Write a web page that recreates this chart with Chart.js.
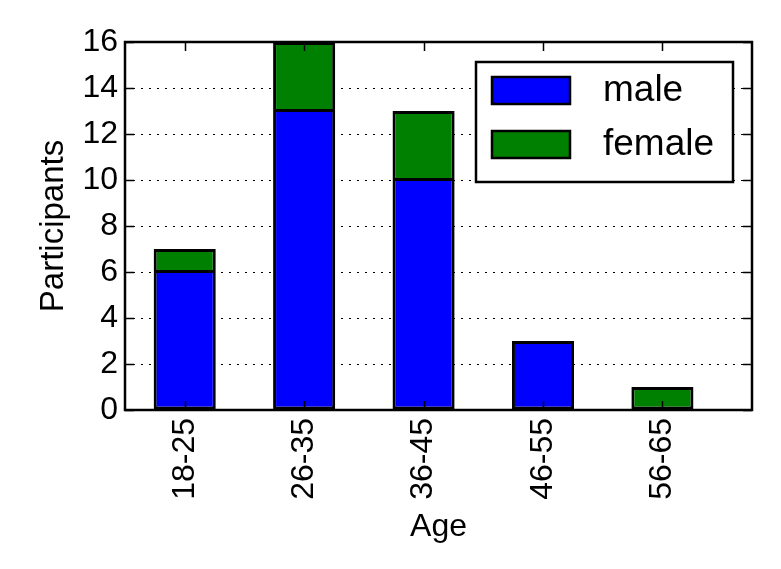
<!DOCTYPE html>
<html>
<head>
<meta charset="utf-8">
<script src="https://cdn.jsdelivr.net/npm/chart.js@4"></script>
<style>
  html, body { margin: 0; padding: 0; background: #fff; }
  #wrap { width: 781px; height: 569px; }
</style>
</head>
<body>
<div id="wrap"><canvas id="chart" width="781" height="569"></canvas></div>
<script>
const ageGroups = ['18-25', '26-35', '36-45', '46-55', '56-65'];
const male = [6, 13, 10, 3, 0];
const female = [1, 3, 3, 0, 1];
const yTicks = [0, 2, 4, 6, 8, 10, 12, 14, 16];

const FONT = '"Liberation Sans", Arial, sans-serif';

function toPoints(values){
  return values.map((v, i) => ({ x: i, y: v }));
}

// frame, inward ticks and legend box, matplotlib-style
const framePlugin = {
  id: 'frame',
  afterDraw(chart){
    const { ctx, chartArea: a, scales } = chart;
    ctx.save();
    ctx.strokeStyle = '#000';
    ctx.lineWidth = 1.5;
    const tl = 9;
    ctx.beginPath();
    ageGroups.forEach((_, i) => {
      const px = Math.round(scales.x.getPixelForValue(i)) + 0.5;
      ctx.moveTo(px, a.bottom); ctx.lineTo(px, a.bottom - tl);
      ctx.moveTo(px, a.top); ctx.lineTo(px, a.top + tl);
    });
    yTicks.forEach(v => {
      const py = Math.round(scales.y.getPixelForValue(v)) + 0.5;
      ctx.moveTo(a.left, py); ctx.lineTo(a.left + tl, py);
      ctx.moveTo(a.right, py); ctx.lineTo(a.right - tl, py);
    });
    ctx.stroke();

    ctx.lineWidth = 2.5;
    ctx.strokeRect(a.left, a.top, a.right - a.left, a.bottom - a.top);

    // legend
    const bx = a.right - 276, by = a.top + 20, bw = 257, bh = 120;
    ctx.fillStyle = '#fff';
    ctx.fillRect(bx, by, bw, bh);
    ctx.strokeRect(bx, by, bw, bh);
    ctx.font = '37px ' + FONT;
    ctx.textBaseline = 'middle';
    chart.data.datasets.forEach((ds, i) => {
      const py = by + 15 + i * 54;
      ctx.fillStyle = ds.backgroundColor;
      ctx.fillRect(bx + 16, py, 78, 27);
      ctx.strokeRect(bx + 16, py, 78, 27);
      ctx.fillStyle = '#000';
      ctx.fillText(ds.label, bx + 127, py + 14);
    });
    ctx.restore();
  }
};

new Chart(document.getElementById('chart'), {
  type: 'bar',
  data: {
    datasets: [
      {
        label: 'male',
        data: toPoints(male),
        backgroundColor: '#0000ff',
        borderColor: '#000',
        borderWidth: c => ({ left: 3, right: 3, bottom: 3, top: female[c.dataIndex] > 0 ? 1 : 3 }),
        borderSkipped: false,
      },
      {
        label: 'female',
        data: toPoints(female),
        backgroundColor: '#008000',
        borderColor: '#000',
        borderWidth: c => ({ left: 3, right: 3, top: 3, bottom: male[c.dataIndex] > 0 ? 2 : 3 }),
        borderSkipped: false,
      }
    ]
  },
  options: {
    responsive: false,
    devicePixelRatio: 1,
    animation: false,
    barPercentage: 0.52,
    categoryPercentage: 1,
    layout: { padding: { left: 0, top: 42, right: 29, bottom: 0 } },
    plugins: {
      legend: { display: false },
      tooltip: { enabled: false }
    },
    scales: {
      x: {
        type: 'linear',
        stacked: true,
        offset: false,
        min: -0.5,
        max: 4.75,
        afterBuildTicks: s => { s.ticks = ageGroups.map((_, i) => ({ value: i })); },
        afterFit: s => { s.height = 159; },
        grid: { display: false, drawTicks: false, offset: false },
        border: { display: false },
        ticks: {
          autoSkip: false,
          minRotation: 90,
          maxRotation: 90,
          padding: 8,
          color: '#000',
          font: { family: FONT, size: 32 },
          callback: v => ageGroups[v] ?? ''
        },
        title: {
          display: true,
          text: 'Age',
          color: '#000',
          font: { family: FONT, size: 32 },
          padding: { top: 0, bottom: 23 }
        }
      },
      y: {
        stacked: true,
        min: 0,
        max: 16,
        afterBuildTicks: s => { s.ticks = yTicks.map(v => ({ value: v })); },
        afterFit: s => { s.width = 125; },
        grid: {
          drawTicks: false,
          lineWidth: 1,
          color: c => (c.tick && (c.tick.value === 0 || c.tick.value === 16)) ? 'rgba(0,0,0,0)' : '#000'
        },
        border: { display: false, dash: [2, 6] },
        ticks: {
          padding: 7,
          color: '#000',
          font: { family: FONT, size: 32 }
        },
        title: {
          display: true,
          text: 'Participants',
          color: '#000',
          font: { family: FONT, size: 33 },
          padding: { top: 34, bottom: 0 }
        }
      }
    }
  },
  plugins: [framePlugin]
});
</script>
</body>
</html>
